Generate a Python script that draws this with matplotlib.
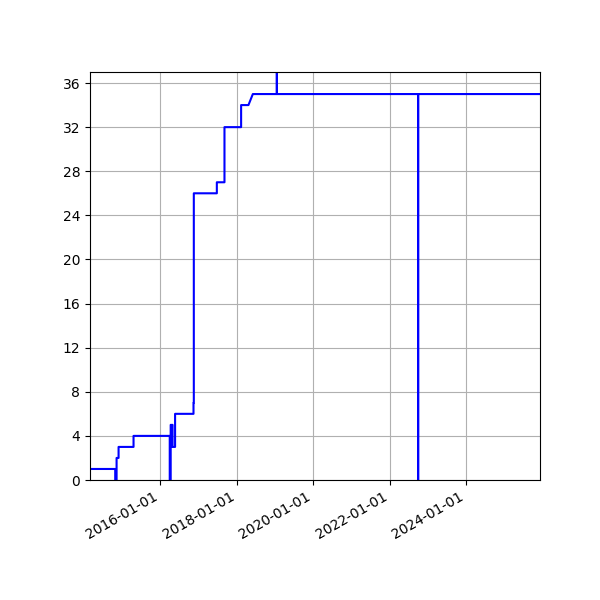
import matplotlib
matplotlib.use("Agg")
import matplotlib.pyplot as plt
import matplotlib.dates as mdates
import numpy as np
from datetime import datetime

# change points (date, value) ; line drawn as a step-like series
dates = [
    "2014-03-01", "2014-10-28", "2014-10-28", "2014-11-10", "2014-11-10",
    "2014-11-29", "2014-11-29", "2015-04-21", "2015-04-21", "2016-04-01",
    "2016-04-01", "2016-04-10", "2016-04-10", "2016-04-16", "2016-04-16",
    "2016-04-22", "2016-04-22", "2016-04-28", "2016-04-28", "2016-05-22",
    "2016-05-22", "2016-11-14", "2016-11-14", "2016-11-17", "2016-11-17",
    "2017-06-25", "2017-06-25", "2017-09-06", "2017-09-06", "2018-02-12",
    "2018-02-12", "2018-04-23", "2018-06-04", "2019-01-19", "2019-01-19",
    "2019-01-20", "2019-01-20", "2022-09-30", "2022-09-30", "2022-10-01",
    "2022-10-01", "2025-12-08",
]
values = [
    1, 1, 0, 0, 2,
    2, 3, 3, 4, 4,
    0, 0, 5, 5, 3,
    3, 5, 5, 3, 3,
    6, 6, 7, 7, 26,
    26, 27, 27, 32, 32,
    34, 34, 35, 35, 45,
    45, 35, 35, 0, 0,
    35, 35,
]
y_ticks = [0, 4, 8, 12, 16, 20, 24, 28, 32, 36]

x = [datetime.strptime(d, "%Y-%m-%d") for d in dates]

fig = plt.figure(figsize=(6, 6), dpi=100)
ax = fig.add_axes([0.15, 0.2, 0.75, 0.68])
ax.plot(x, values, color="blue", linewidth=1.5)
ax.set_xlim(x[0], x[-1])
ax.set_ylim(0, 37)
ax.set_yticks(y_ticks)
ax.xaxis.set_major_locator(mdates.YearLocator(2))
ax.xaxis.set_major_formatter(mdates.DateFormatter("%Y-%m-%d"))
ax.grid(True)
for lbl in ax.get_xticklabels():
    lbl.set_rotation(30)
    lbl.set_ha("right")

fig.savefig("out.png", dpi=100)
